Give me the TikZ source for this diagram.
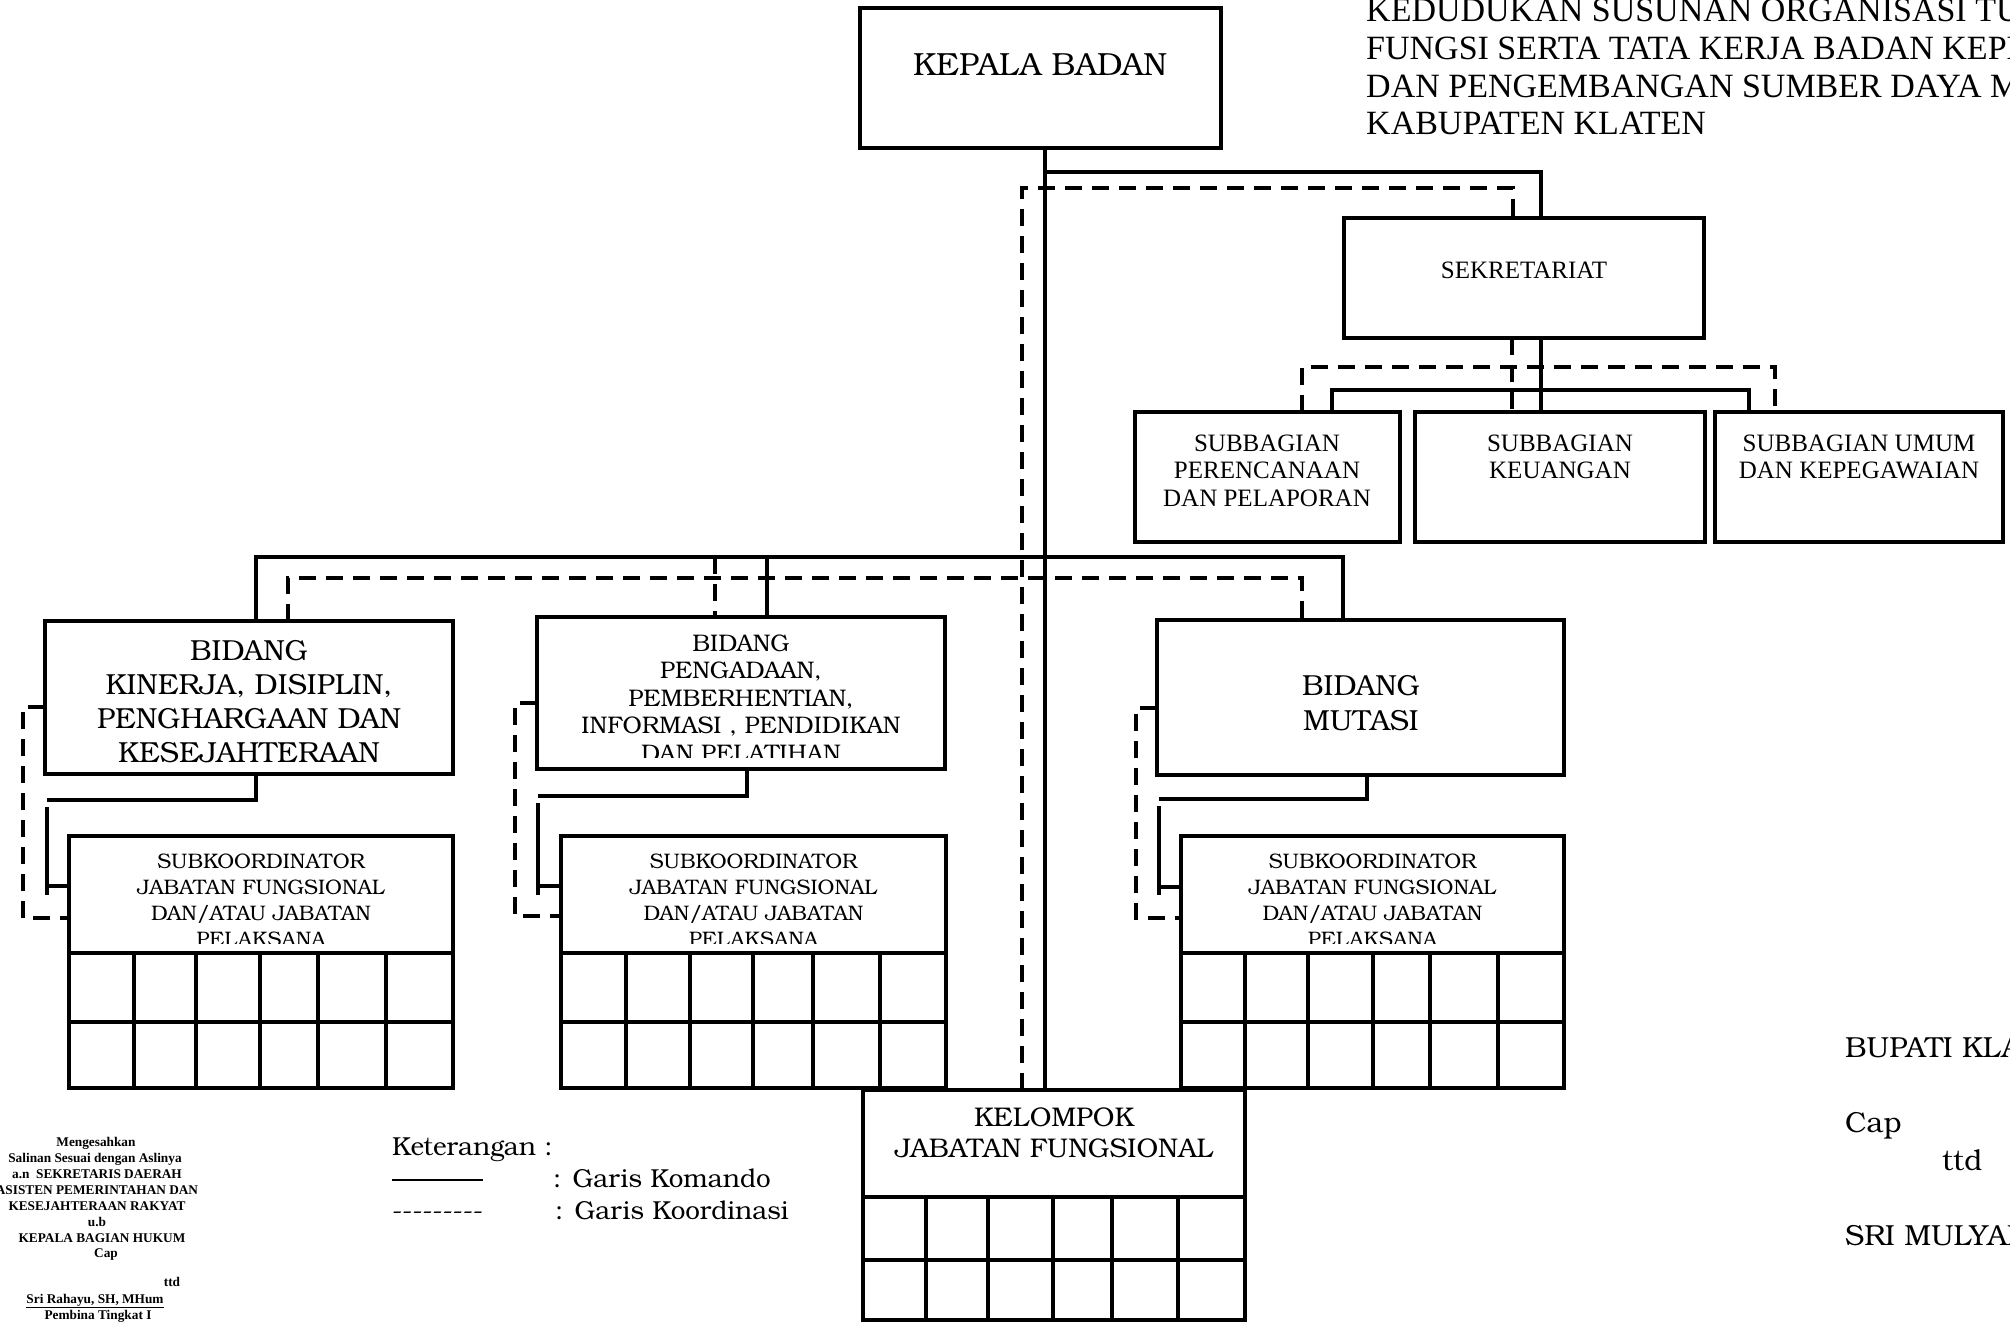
\documentclass[tikz,border=0pt]{standalone}
\usepackage{fontspec}
\setmainfont{Liberation Serif}
\IfFontExistsTF{TeX Gyre Bonum}{\newfontfamily\bk{TeX Gyre Bonum}}{\newfontfamily\bk{DejaVu Serif}}
\newcommand\hy{\makebox[10.1pt]{-}}
\tikzset{
  box/.style={draw, line width=4pt, rectangle, inner sep=0pt, outer sep=0pt, anchor=north west},
  cmd/.style={line width=3.5pt},
  crd/.style={line width=3.5pt, dash pattern=on 17pt off 10pt},
  gridline/.style={line width=4pt},
  txt/.style={inner sep=0pt, align=center},
  bkf/.style 2 args={txt, font=\bk\fontsize{#1}{#2}\selectfont},
  tmf/.style 2 args={txt, font=\rmfamily\fontsize{#1}{#2}\selectfont},
}
\begin{document}
\begin{tikzpicture}[x=1pt,y=-1pt]
\useasboundingbox (0,0) rectangle (2010,1323);
% ---------- boxes
\node[box, minimum width=361pt, minimum height=140pt] (kepala) at (860,8) {};
\node[box, minimum width=360pt, minimum height=120pt] (sek) at (1344,218) {};
\node[box, minimum width=265pt, minimum height=130pt] (sb1) at (1135,412) {};
\node[box, minimum width=290pt, minimum height=130pt] (sb2) at (1415,412) {};
\node[box, minimum width=288pt, minimum height=130pt] (sb3) at (1715,412) {};
\node[box, minimum width=408pt, minimum height=153pt] (b1) at (45,621) {};
\node[box, minimum width=408pt, minimum height=152pt] (b2) at (537,617) {};
\node[box, minimum width=407pt, minimum height=155pt] (b3) at (1157,620) {};
\node[box, minimum width=384pt, minimum height=252pt] (k1) at (69,836) {};
\node[box, minimum width=385pt, minimum height=252pt] (k2) at (561,836) {};
\node[box, minimum width=383pt, minimum height=252pt] (k3) at (1181,836) {};
\node[box, minimum width=382pt, minimum height=230pt] (kel) at (863,1090) {};
% ---------- grids
\draw[gridline] (69,953) -- (453,953) (69,1022) -- (453,1022);
\foreach \x in {133.5,196,260,318,386} \draw[gridline] (\x,953) -- (\x,1088);
\draw[gridline] (561,953) -- (946,953) (561,1022) -- (946,1022);
\foreach \x in {626,690,753,813,880} \draw[gridline] (\x,953) -- (\x,1088);
\draw[gridline] (1181,953) -- (1564,953) (1181,1022) -- (1564,1022);
\foreach \x in {1245,1308,1373,1430,1498} \draw[gridline] (\x,953) -- (\x,1088);
\draw[gridline] (863,1197) -- (1245,1197) (863,1260) -- (1245,1260);
\foreach \x in {926,988,1053,1112,1178} \draw[gridline] (\x,1197) -- (\x,1320);
% ---------- texts in boxes
\node[bkf={32}{37}] (tkepala) at (1040,65) {KEPALA BADAN};
\node[tmf={25}{27.5}] (tsek) at (1524,270) {SEKRETARIAT};
\node[tmf={25}{27.5}, anchor=north] (tsb1) at (1267,434.5) {SUBBAGIAN\\PERENCANAAN\\DAN PELAPORAN};
\node[tmf={25}{27.5}, anchor=north] (tsb2) at (1560,434.5) {SUBBAGIAN\\KEUANGAN};
\node[tmf={25}{27.5}, anchor=north] (tsb3) at (1859,434.5) {SUBBAGIAN UMUM\\DAN KEPEGAWAIAN};
\node[bkf={29}{34}, anchor=north] (tb1) at (249,640) {BIDANG\\KINERJA, DISIPLIN,\\PENGHARGAAN DAN\\KESEJAHTERAAN};
\begin{scope}
\clip (537,617) rectangle (945,757);
\node[bkf={24}{27.5}, anchor=north] (tb2) at (741,634.5) {BIDANG\\PENGADAAN,\\PEMBERHENTIAN,\\INFORMASI , PENDIDIKAN\\DAN PELATIHAN};
\end{scope}
\node[bkf={29}{35}, anchor=north] (tb3) at (1361,675) {BIDANG\\MUTASI};
\foreach \n/\cx in {k1/261,k2/753.5,k3/1372.5}{
  \begin{scope}
  \clip (\cx-190,836) rectangle (\cx+190,943);
  \node[bkf={21}{26}, anchor=north] (t\n) at (\cx,854) {SUBKOORDINATOR\\JABATAN FUNGSIONAL\\DAN/ATAU JABATAN\\PELAKSANA};
  \end{scope}
}
\node[bkf={27}{31}, anchor=north] (tkel) at (1054,1108) {KELOMPOK\\JABATAN FUNGSIONAL};
% ---------- connectors: kepala
\coordinate (mx) at (1045,0);
\coordinate (dx) at (1022,0);
\draw[cmd] (kepala.south -| mx) -- (kel.north -| mx);
\coordinate (s1) at (1541,172);
\draw[cmd] (s1 -| mx) -- (s1) -- (s1 |- sek.north);
\coordinate (d1) at (1513,188);
\draw[crd] (kel.north -| dx) -- (d1 -| dx) -- (d1) -- (d1 |- sek.north);
% sekretariat to subbagian
\coordinate (s2) at (1541,390);
\coordinate (s2a) at (1332,390);
\coordinate (s2b) at (1749,390);
\draw[cmd] (sek.south -| s2) -- (sb2.north -| s2);
\draw[cmd] (sb1.north -| s2a) -- (s2a) -- (s2b) -- (sb3.north -| s2b);
\coordinate (d2) at (1512,367);
\coordinate (d2a) at (1302,367);
\coordinate (d2b) at (1775,367);
\draw[crd] (sek.south -| d2) -- (sb2.north -| d2);
\draw[crd] (sb1.north -| d2a) -- (d2a) -- (d2b) -- (sb3.north -| d2b);
% bidang bus
\coordinate (ba) at (256,557);
\coordinate (bb) at (767,557);
\coordinate (bc) at (1343,557);
\draw[cmd] (b1.north -| ba) -- (ba) -- (bc) -- (b3.north -| bc);
\draw[cmd] (bb) -- (b2.north -| bb);
\coordinate (da) at (288,578);
\coordinate (db) at (715,578);
\coordinate (dc) at (1302,578);
\draw[crd] (b1.north -| da) -- (da) -- (dc) -- (b3.north -| dc);
\draw[crd] (db |- ba) -- (b2.north -| db);
% bidang 1 to subkoordinator 1
\coordinate (e1) at (256,800);
\coordinate (f1) at (47,800);
\coordinate (g1) at (47,807);
\coordinate (h1) at (47,895);
\coordinate (i1) at (47,886);
\draw[cmd] (b1.south -| e1) -- (e1) -- (f1);
\draw[cmd] (g1) -- (h1);
\draw[cmd] (i1) -- (i1 -| k1.west);
\coordinate (p1) at (23,707);
\coordinate (q1) at (23,918);
\draw[crd] (p1 -| b1.west) -- (p1) -- (q1) -- (q1 -| k1.west);
% bidang 2 to subkoordinator 2
\coordinate (e2) at (747,796);
\coordinate (f2) at (538,796);
\coordinate (g2) at (538,803);
\coordinate (h2) at (538,895);
\coordinate (i2) at (538,886);
\draw[cmd] (b2.south -| e2) -- (e2) -- (f2);
\draw[cmd] (g2) -- (h2);
\draw[cmd] (i2) -- (i2 -| k2.west);
\coordinate (p2) at (515,703);
\coordinate (q2) at (515,916);
\draw[crd] (p2 -| b2.west) -- (p2) -- (q2) -- (q2 -| k2.west);
% bidang 3 to subkoordinator 3
\coordinate (e3) at (1367,799);
\coordinate (f3) at (1159,799);
\coordinate (g3) at (1159,806);
\coordinate (h3) at (1159,895);
\coordinate (i3) at (1159,887);
\draw[cmd] (b3.south -| e3) -- (e3) -- (f3);
\draw[cmd] (g3) -- (h3);
\draw[cmd] (i3) -- (i3 -| k3.west);
\coordinate (p3) at (1136,708);
\coordinate (q3) at (1136,918);
\draw[crd] (p3 -| b3.west) -- (p3) -- (q3) -- (q3 -| k3.west);
% ---------- title
\node[tmf={34}{38}, anchor=base west] (ti1) at (1366,21) {KEDUDUKAN SUSUNAN ORGANISASI TUGAS DAN};
\node[tmf={34}{38}, anchor=base west] (ti2) at (1366,59) {FUNGSI SERTA TATA KERJA BADAN KEPEGAWAIAN};
\node[tmf={34}{38}, anchor=base west] (ti3) at (1366,97) {DAN PENGEMBANGAN SUMBER DAYA MANUSIA};
\node[tmf={34}{38}, anchor=base west] (ti4) at (1366,134) {KABUPATEN KLATEN};
% ---------- legend
\node[bkf={26}{30}, anchor=base west] (lk) at (392,1155) {Keterangan :};
\coordinate (l1a) at (392,1180);
\coordinate (l1b) at (483,1180);
\draw[line width=2.7pt] (l1a) -- (l1b);
\node[bkf={26}{30}, anchor=base west] (lkom) at (553,1187) {: Garis Komando};
\node[bkf={26}{30}, anchor=base west] (lhy) at (392,1219) {\hy\hy\hy\hy\hy\hy\hy\hy\hy};
\node[bkf={26}{30}, anchor=base west] (lkoo) at (555,1219) {: Garis Koordinasi};
% ---------- signature
\node[bkf={29}{34}, anchor=base west] (sg1) at (1845,1057) {BUPATI KLATEN};
\node[bkf={29}{34}, anchor=base west] (sg2) at (1845,1132) {Cap};
\node[bkf={29}{34}, anchor=base west] (sg3) at (1942,1170) {ttd};
\node[bkf={29}{34}, anchor=base west] (sg4) at (1845,1245) {SRI MULYANI};
% ---------- left block
\begin{scope}[every node/.style={txt, font=\rmfamily\bfseries\fontsize{13.3}{16}\selectfont, anchor=base}]
\node (lb1) at (96,1146) {Mengesahkan};
\node (lb2) at (95,1162) {Salinan Sesuai dengan Aslinya};
\node (lb3) at (97,1178) {a.n\ \ SEKRETARIS DAERAH};
\node (lb4) at (97,1194) {ASISTEN PEMERINTAHAN DAN};
\node (lb5) at (97,1210) {KESEJAHTERAAN RAKYAT};
\node (lb6) at (97,1226) {u.b};
\node (lb7) at (102,1242) {KEPALA BAGIAN HUKUM};
\node (lb8) at (106,1257) {Cap};
\node (lb9) at (172,1286) {ttd};
\node (lb10) at (95,1303) {\underline{Sri Rahayu, SH, MHum}};
\node (lb11) at (98,1319) {Pembina Tingkat I};
\end{scope}
\end{tikzpicture}
\end{document}
